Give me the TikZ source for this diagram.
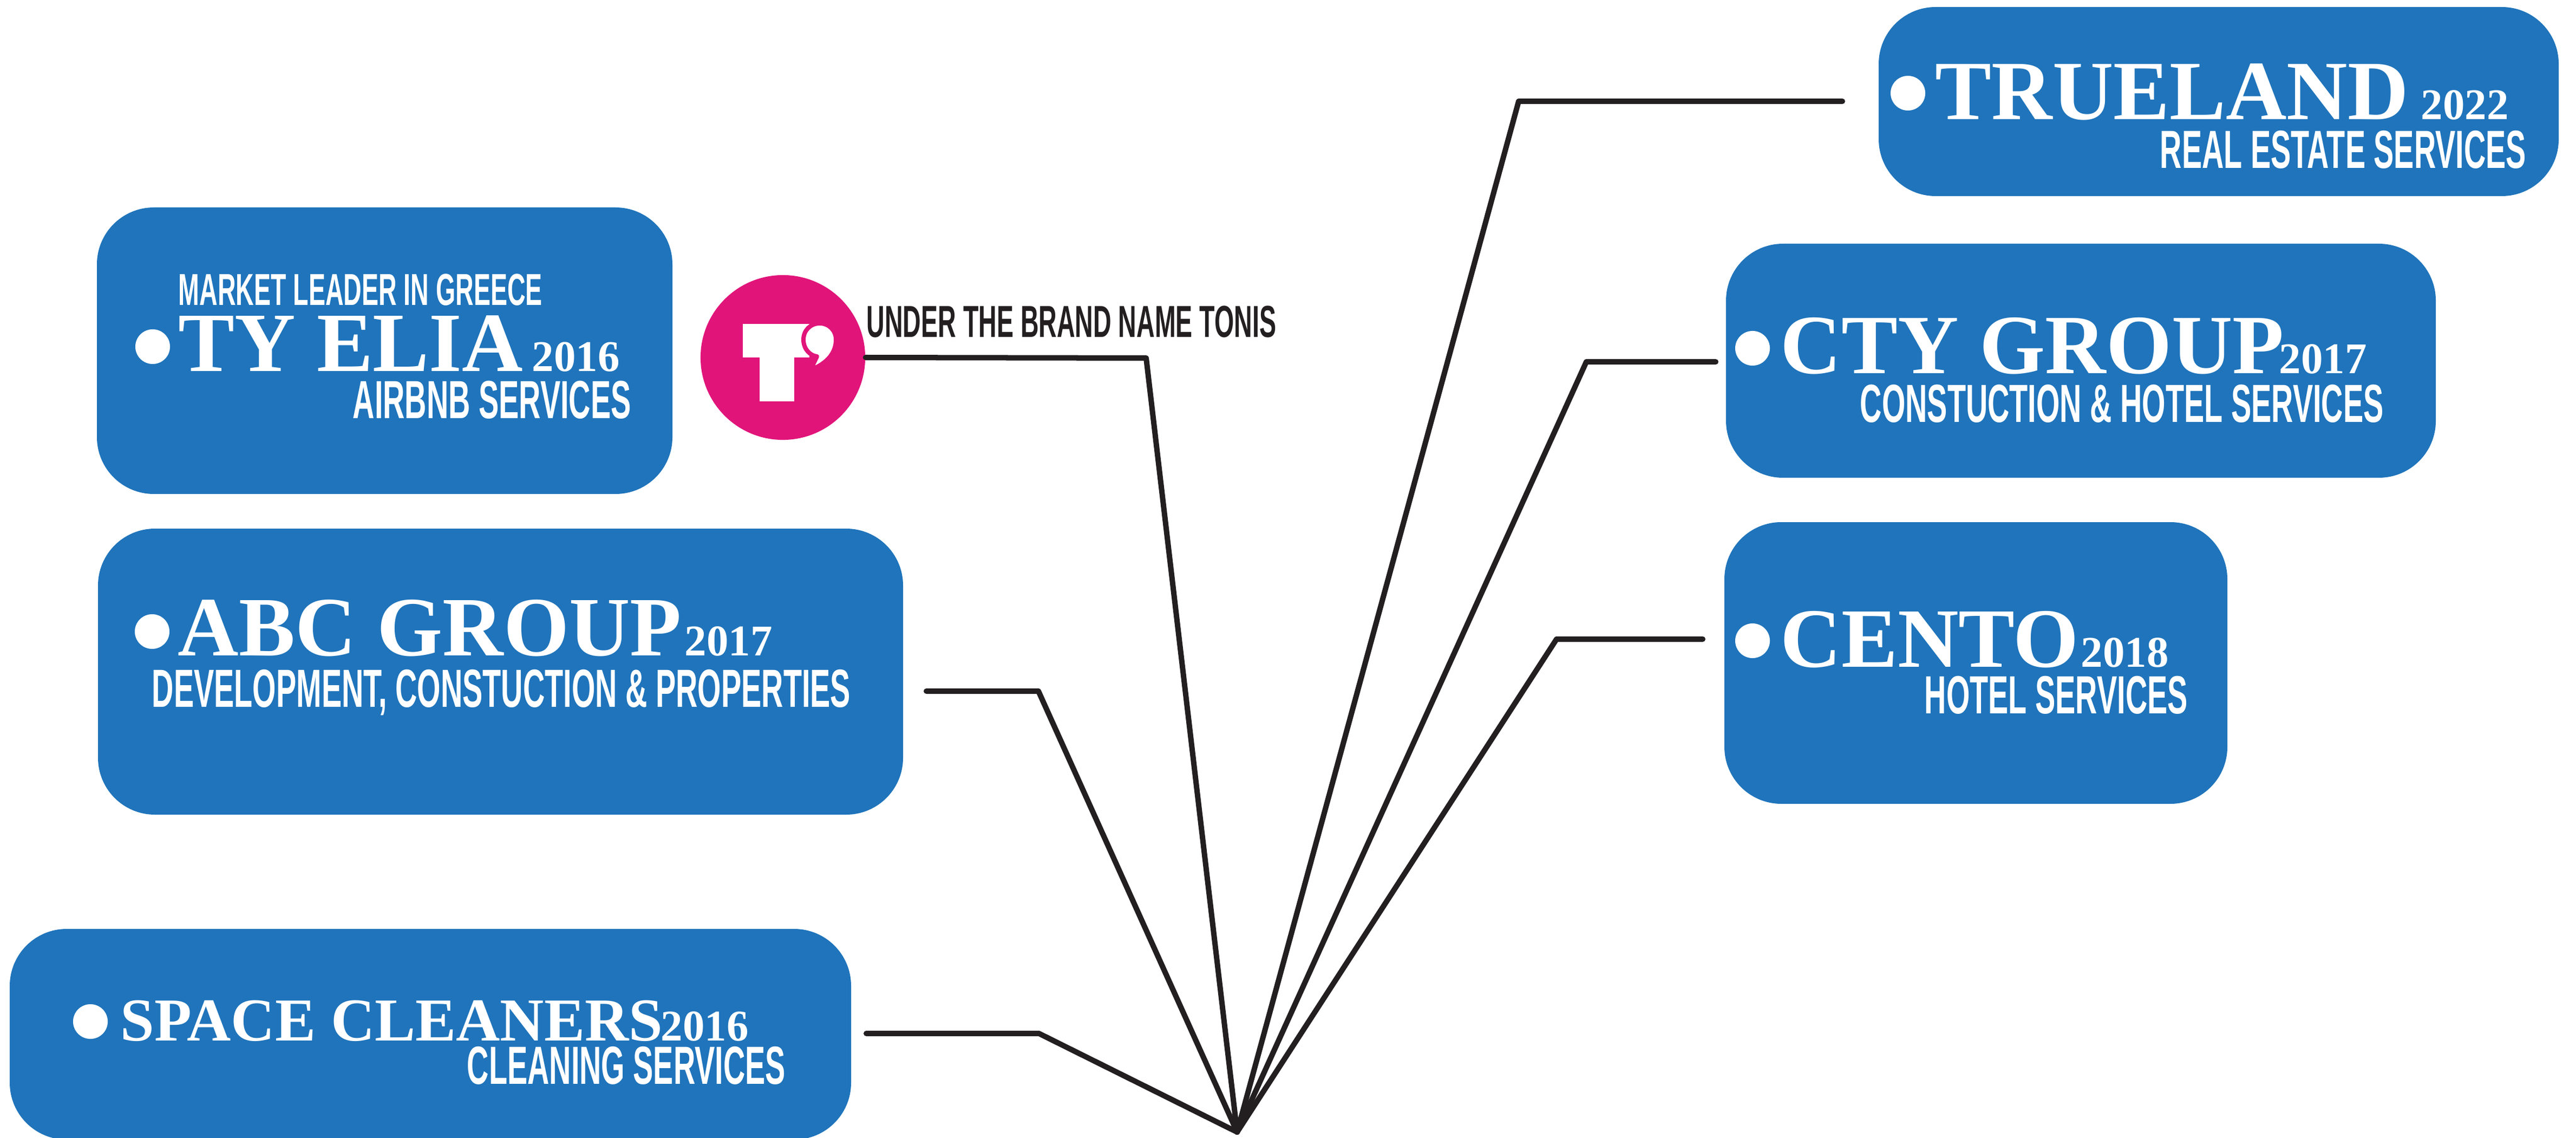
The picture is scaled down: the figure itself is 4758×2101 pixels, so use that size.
\documentclass[tikz,border=0pt]{standalone}
\usepackage{fontspec}
\usetikzlibrary{calc}
\newfontfamily\headfont{Liberation Serif}
\newfontfamily\tagfont[FakeStretch=0.563]{Liberation Sans}
\definecolor{boxblue}{RGB}{31,116,187}
\definecolor{linedark}{RGB}{35,31,32}
\definecolor{tonispink}{RGB}{225,20,122}
\tikzset{
  company/.style={fill=boxblue, rounded corners=1.05cm},
  link/.style={draw=linedark, line width=1mm, line cap=round, line join=round},
  cotitle/.style={inner sep=0, anchor=base west, text=white, text height=1.03cm, text depth=0pt, font=\headfont\bfseries\fontsize{44.3}{50}\selectfont},
  yeartext/.style={inner sep=0, anchor=base west, text=white, text height=0.54cm, text depth=0pt, font=\headfont\bfseries\fontsize{23}{26}\selectfont},
  service/.style={inner sep=0, anchor=base west, text=white, text height=0.71cm, text depth=0pt, font=\tagfont\bfseries\fontsize{28.2}{32}\selectfont},
  notetext/.style={inner sep=0, anchor=base west, text height=0.6cm, text depth=0pt, font=\tagfont\bfseries\fontsize{23.5}{27}\selectfont},
  bulletdot/.style={fill=white},
}

\begin{document}
\begin{tikzpicture}[x=0.01cm, y=-0.01cm]
          \useasboundingbox (0,0) rectangle (4758,2101);

          % company boxes
          \fill[company] (179,383) rectangle (1242,912);
          \fill[company] (181,976) rectangle (1668,1504);
          \fill[company] (18,1715) rectangle (1572,2104);
          \fill[company] (3470,13) rectangle (4726,362);
          \fill[company] (3188,450) rectangle (4499,882);
          \fill[company] (3185,964) rectangle (4114,1484);

          % bullets
          \fill[bulletdot] (282,640) circle (0.32cm);
          \fill[bulletdot] (281,1166) circle (0.32cm);
          \fill[bulletdot] (167,1886) circle (0.32cm);
          \fill[bulletdot] (3524,172) circle (0.32cm);
          \fill[bulletdot] (3237,643) circle (0.32cm);
          \fill[bulletdot] (3237,1183) circle (0.32cm);

          % tonis logo
          \node[circle, fill=tonispink, minimum size=3.04cm, inner sep=0] (tonis) at (1446,660) {};
          \fill[white] (1372,598) rectangle (1495,660);
          \fill[white] (1403,659) rectangle (1467,741);
          \filldraw[fill=white, draw=tonispink, line width=0.8mm, line join=round]
          (1544,627) .. controls (1544,610) and (1531,597) .. (1514,597)
          .. controls (1497,597) and (1484,610) .. (1484,627)
          .. controls (1484,645) and (1497,657) .. (1509,658)
          -- (1497,683) .. controls (1530,670) and (1544,650) .. cycle;

          % texts
          \node[notetext, text=white] (tyelia-note) at (329,564) {MARKET LEADER IN GREECE};
          \node[cotitle] (tyelia) at (329,686) {TY ELIA};
          \node[yeartext] (tyelia-year) at (982,686) {2016};
          \node[service] (tyelia-service) at (651,773) {AIRBNB SERVICES};

          \node[cotitle] (abc) at (328,1210) {ABC GROUP};
          \node[yeartext] (abc-year) at (1264,1210) {2017};
          \node[service] (abc-service) at (280,1305) {DEVELOPMENT, CONSTUCTION \& PROPERTIES};

          \node[cotitle, text height=0.75cm, font=\headfont\bfseries\fontsize{32}{36}\selectfont] (space) at (222,1921) {SPACE CLEANERS};
          \node[yeartext] (space-year) at (1220,1921) {2016};
          \node[service] (space-service) at (862,2001) {CLEANING SERVICES};

          \node[notetext, text=linedark] (tonis-note) at (1600,623) {UNDER THE BRAND NAME TONIS};

          \node[cotitle] (trueland) at (3574,221) {TRUELAND};
          \node[yeartext] (trueland-year) at (4471,221) {2022};
          \node[service] (trueland-service) at (3989,311) {REAL ESTATE SERVICES};

          \node[cotitle] (cty) at (3288,690) {CTY GROUP};
          \node[yeartext] (cty-year) at (4209,690) {2017};
          \node[service] (cty-service) at (3435,780) {CONSTUCTION \& HOTEL SERVICES};

          \node[cotitle] (cento) at (3288,1231) {CENTO};
          \node[yeartext] (cento-year) at (3843,1231) {2018};
          \node[service] (cento-service) at (3554,1317) {HOTEL SERVICES};

          % connectors
          \coordinate (hub) at (2285,2090);
          \coordinate (tonis-bend) at (2117,661);
          \coordinate (abc-end) at (1711,1276);
          \coordinate (abc-bend) at (1918,1276);
          \coordinate (space-end) at (1600,1908);
          \coordinate (space-bend) at (1919,1908);
          \coordinate (trueland-end) at (3403,187);
          \coordinate (trueland-bend) at (2805,187);
          \coordinate (cty-end) at (3169,668);
          \coordinate (cty-bend) at (2930,668);
          \coordinate (cento-end) at (3145,1180);
          \coordinate (cento-bend) at (2875,1180);

          \draw[link] (tonis.east) -- (tonis-bend) -- (hub);
          \draw[link] (abc-end) -- (abc-bend) -- (hub);
          \draw[link] (space-end) -- (space-bend) -- (hub);
          \draw[link] (trueland-end) -- (trueland-bend) -- (hub);
          \draw[link] (cty-end) -- (cty-bend) -- (hub);
          \draw[link] (cento-end) -- (cento-bend) -- (hub);

\end{tikzpicture}
\end{document}
